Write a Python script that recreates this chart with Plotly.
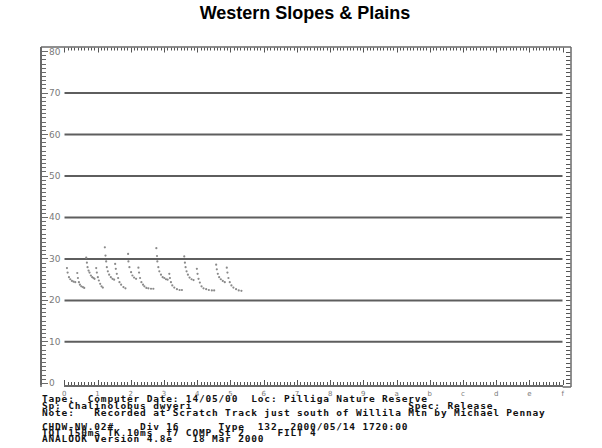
import plotly.graph_objects as go

# ---------------- data ----------------
TITLE = "Western Slopes &amp; Plains"

# time (divisions, hex ruler 0..f) and frequency (kHz) of call dots, per pulse group
p1_t = [0.08, 0.10, 0.14, 0.18, 0.23, 0.28, 0.33, 0.39, 0.41, 0.44, 0.47, 0.51, 0.56, 0.60]
p1_f = [27.8, 26.7, 25.6, 25.1, 24.7, 24.5, 24.4, 26.6, 25.4, 24.4, 23.8, 23.4, 23.2, 23.0]

p2_t = [0.66, 0.68, 0.70, 0.73, 0.76, 0.80, 0.84, 0.88, 0.91, 0.96, 0.98, 1.01, 1.04, 1.08, 1.12, 1.16]
p2_f = [30.3, 29.1, 28.0, 27.2, 26.7, 26.0, 25.6, 25.4, 25.2, 27.8, 26.7, 25.6, 24.8, 24.0, 23.4, 23.1]

p3_t = [1.22, 1.24, 1.26, 1.28, 1.31, 1.35, 1.40, 1.45, 1.50, 1.53, 1.55, 1.58, 1.62, 1.66, 1.71, 1.78, 1.84]
p3_f = [32.8, 30.8, 29.4, 28.0, 27.0, 26.2, 25.6, 25.2, 25.0, 28.8, 27.6, 26.4, 25.4, 24.4, 23.8, 23.2, 22.9]

p4_t = [1.92, 1.93, 1.96, 2.01, 2.05, 2.10, 2.16, 2.23, 2.25, 2.28, 2.32, 2.37, 2.41, 2.47, 2.53, 2.61, 2.68]
p4_f = [31.2, 29.4, 28.0, 26.8, 26.0, 25.5, 25.2, 27.9, 26.7, 25.4, 24.4, 23.8, 23.4, 23.0, 22.9, 22.8, 22.8]

p5_t = [2.77, 2.79, 2.80, 2.83, 2.86, 2.91, 2.96, 3.01, 3.06, 3.11, 3.16, 3.18, 3.21, 3.25, 3.31, 3.39, 3.47, 3.54]
p5_f = [32.6, 30.7, 29.4, 28.0, 27.0, 26.2, 25.6, 25.4, 25.1, 25.0, 26.4, 25.4, 24.4, 23.6, 23.1, 22.7, 22.5, 22.5]

p6_t = [3.61, 3.63, 3.65, 3.68, 3.72, 3.77, 3.83, 3.89, 3.99, 4.01, 4.04, 4.08, 4.13, 4.19, 4.27, 4.35, 4.44, 4.51]
p6_f = [30.6, 29.1, 28.0, 27.0, 26.2, 25.5, 25.1, 24.9, 27.6, 26.4, 25.2, 24.3, 23.4, 22.9, 22.7, 22.5, 22.4, 22.4]

p7_t = [4.57, 4.59, 4.62, 4.66, 4.71, 4.77, 4.83, 4.89, 4.91, 4.94, 4.98, 5.03, 5.09, 5.17, 5.25, 5.33]
p7_f = [28.6, 27.5, 26.4, 25.6, 25.1, 24.7, 24.4, 27.9, 26.7, 25.4, 24.4, 23.6, 23.1, 22.7, 22.4, 22.3]

x_tick_vals = list(range(16))
x_tick_text = ["0", "1", "2", "3", "4", "5", "6", "7", "8", "9", "a", "b", "c", "d", "e", "f"]
y_tick_vals = [0, 10, 20, 30, 40, 50, 60, 70, 80]
grid_levels = [10, 20, 30, 40, 50, 60, 70]

header_lines = [
    "Tape:  Computer Date: 14/05/00  Loc: Pilliga Nature Reserve",
    "Sp: Chalinolobus dwyeri                                 Spec: Release",
    "Note:   Recorded at Scratch Track just south of Willila Mtn by Michael Pennay",
    "CHDW-NW.02#    Div 16      Type  132  2000/05/14 1720:00",
    "TOT 150ms TK 10ms  f7 COMP St 2     FILT 4",
    "ANALOOK Version 4.8e   18 Mar 2000",
]

# ---------------- layout geometry ----------------
W, H = 602, 448
L, R, T, B = 41, 31, 47, 61
PW, PH = W - L - R, H - T - B
X0_PX, X15_PX = 64.3, 562.7      # ruler 0 and f
Y0_PX, KHZ_PX = 383.3, 4.146     # 0 kHz pixel row and pixels per kHz
RULER_BOT, FRAME_TOP = 385.0, 47.0
FRAME_L, FRAME_R = 41.0, 571.0


def px_x(px):
    return (px - L) / PW


def px_y(py):
    return (H - B - py) / PH


def t_to_px(v):
    return X0_PX + v * (X15_PX - X0_PX) / (x_tick_vals[-1] - x_tick_vals[0])


def f_to_px(f):
    return Y0_PX - f * KHZ_PX


x_dom = [px_x(X0_PX), px_x(X15_PX)]
y_dom = [px_y(RULER_BOT), 1]
y_range = [(Y0_PX - RULER_BOT) / KHZ_PX, (Y0_PX - FRAME_TOP) / KHZ_PX]
x_range = [x_tick_vals[0], x_tick_vals[-1]]
x_alias = {str(v): t for v, t in zip(x_tick_vals, x_tick_text)}

FRAME = "#6a6a6a"
TICK = "#555555"
DOT = "#8a8a8a"

fig = go.Figure()
groups = [(p1_t, p1_f), (p2_t, p2_f), (p3_t, p3_f), (p4_t, p4_f),
          (p5_t, p5_f), (p6_t, p6_f), (p7_t, p7_f)]
for t, f in groups:
    fig.add_trace(go.Scatter(x=t, y=f, mode="markers", xaxis="x", yaxis="y",
                             marker=dict(size=2.2, color=DOT, line=dict(width=0)),
                             showlegend=False, hoverinfo="skip", cliponaxis=False))

minor_y = dict(dtick=1, tick0=0, ticks="inside", ticklen=4, tickcolor=FRAME, tickwidth=1)

fig.update_layout(
    width=W, height=H,
    margin=dict(l=L, r=R, t=T, b=B, pad=0),
    paper_bgcolor="white", plot_bgcolor="white",
    showlegend=False,
    title=dict(text="<b>" + TITLE + "</b>", x=305 / W, xref="container", xanchor="center",
               y=1 - 13 / H, yref="container", yanchor="middle",
               font=dict(family="Liberation Sans", size=18, color="black")),
    xaxis=dict(domain=x_dom, range=x_range, anchor="y", side="bottom",
               showline=True, linecolor=FRAME, linewidth=1.5, ticks="",
               tickmode="linear", tick0=0, dtick=1, labelalias=x_alias,
               tickfont=dict(family="DejaVu Sans", size=7, color="#7a7a7a"),
               ticklabelstandoff=1,
               showgrid=False, zeroline=False, fixedrange=True),
    yaxis=dict(domain=y_dom, range=y_range, anchor="free", position=0, side="left",
               showline=True, linecolor=FRAME, linewidth=1.5,
               ticks="inside", ticklen=6, tickcolor=FRAME, tickwidth=1,
               tickmode="linear", tick0=0, dtick=10, showticklabels=False,
               minor=minor_y, showgrid=False, zeroline=False, fixedrange=True),
)

# ruler tick marks, one line shape per tick, in paper units
# top & bottom rulers: tenths of a division; right frame: every kHz
shapes = []
for lvl in grid_levels:
    shapes.append(dict(type="line", xref="x", yref="y", x0=x_range[0], x1=x_range[1],
                       y0=lvl, y1=lvl, line=dict(color="#5e5e5e", width=2), layer="below"))
n_sub = 10 * (x_tick_vals[-1] - x_tick_vals[0])
for i in range(n_sub + 1):
    xp = px_x(round(t_to_px(x_tick_vals[0] + i / 10)) + 0.5)
    ln = 5 if i % 10 == 0 else 3
    shapes.append(dict(type="line", xref="paper", yref="paper", x0=xp, x1=xp,
                       y0=px_y(RULER_BOT), y1=px_y(RULER_BOT - ln),
                       line=dict(color=TICK, width=1)))
    shapes.append(dict(type="line", xref="paper", yref="paper", x0=xp, x1=xp,
                       y0=px_y(FRAME_TOP + 0.5), y1=px_y(FRAME_TOP + 0.5 + ln),
                       line=dict(color=TICK, width=1)))
for k in range(y_tick_vals[0], y_tick_vals[-1] + 1):
    yp = px_y(round(f_to_px(k)) + 0.5)
    shapes.append(dict(type="line", xref="paper", yref="paper",
                       x0=px_x(FRAME_R - 0.5), x1=px_x(FRAME_R - 5), y0=yp, y1=yp,
                       line=dict(color=TICK, width=1)))
shapes.append(dict(type="line", xref="paper", yref="paper", x0=0, x1=1, y0=1, y1=1,
                   line=dict(color=FRAME, width=1.5)))
shapes.append(dict(type="line", xref="paper", yref="paper", x0=0, x1=0, y0=0, y1=1,
                   line=dict(color=FRAME, width=1.5)))
shapes.append(dict(type="line", xref="paper", yref="paper", x0=1, x1=1, y0=0, y1=1,
                   line=dict(color=FRAME, width=1.5)))
shapes.append(dict(type="line", xref="paper", yref="paper", x0=x_dom[1], x1=1, y0=0, y1=0,
                   line=dict(color=FRAME, width=1.5)))
fig.update_layout(shapes=shapes)

# y tick labels drawn just right of the left frame
for v in y_tick_vals:
    fig.add_annotation(text=str(v), xref="paper", yref="y", x=px_x(46.5), y=v,
                       xanchor="left", yanchor="middle", showarrow=False,
                       font=dict(family="DejaVu Sans", size=9, color="#7a7a7a"))

line_centers = [398, 405, 412, 426, 432.5, 439]
for txt, cy in zip(header_lines, line_centers):
    t = txt.replace(" ", "\u00a0")
    fig.add_annotation(text='<span style="letter-spacing:0.82px"><b>' + t + '</b></span>',
                       xref="paper", yref="paper", x=px_x(40), y=px_y(cy),
                       xanchor="left", yanchor="middle", showarrow=False,
                       font=dict(family="DejaVu Sans Mono", size=9.5, color="#111111"))

fig.write_html("out.html")
